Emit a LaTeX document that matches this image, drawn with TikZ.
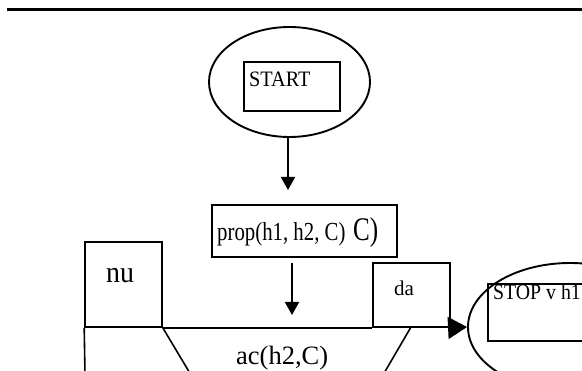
\documentclass[tikz,border=0pt]{standalone}
\usepackage{fontspec}
\usepackage{graphicx}
\setmainfont{Liberation Serif}
\usetikzlibrary{shapes.geometric,arrows.meta}
\begin{document}
\begin{tikzpicture}[x=1pt,y=-1pt,
  ln/.style={line width=1.6pt},
  boxnode/.style={draw,line width=1.6pt,rectangle,inner sep=0pt},
  ovalnode/.style={draw,line width=1.9pt,ellipse,inner sep=0pt},
  txt/.style={anchor=base west,inner sep=0pt},
  arr/.style={line width=1.6pt,-{Triangle[length=13pt,width=14pt]}},
  bigarr/.style={line width=1.6pt,-{Triangle[length=19pt,width=22pt]}}]
\useasboundingbox (0,0) rectangle (582,371);
\clip (0,0) rectangle (582,371);
% top rule
\coordinate (ruleL) at (7,9.5);
\coordinate (ruleR) at (585,9.5);
\draw[line width=3.2pt] (ruleL) -- (ruleR);
% START
\node[ovalnode,minimum width=161pt,minimum height=110pt] (startov) at (289.5,82) {};
\node[boxnode,minimum width=96pt,minimum height=49pt] (startbox) at (292,86.5) {};
\node[txt] (starttxt) at (249,87) {\fontsize{22}{26}\selectfont\scalebox{0.92}[1]{START}};
% prop
\node[boxnode,minimum width=185pt,minimum height=52pt] (propbox) at (304.5,231) {};
\node[txt] (proptxt) at (217,241) {\fontsize{26}{30}\selectfont\scalebox{0.8}[1]{prop(h1, h2, C)}};
\node[txt] (propC) at (353,241) {\fontsize{33}{36}\selectfont\scalebox{0.76}[1]{C)}};
% arrows
\coordinate (a1s) at (288,137);
\coordinate (a1e) at (288,190);
\draw[arr] (a1s) -- (a1e);
\coordinate (a2s) at (292,263);
\coordinate (a2e) at (292,315);
\draw[arr] (a2s) -- (a2e);
% nu and da boxes
\node[boxnode,minimum width=77pt,minimum height=85pt] (nubox) at (123.5,284.5) {};
\node[txt] (nutxt) at (106,283) {\fontsize{30}{34}\selectfont\scalebox{0.93}[1]{nu}};
\node[boxnode,minimum width=77pt,minimum height=64pt] (dabox) at (411.5,295) {};
\node[txt] (datxt) at (394,296) {\fontsize{21}{24}\selectfont da};
% ac(h2,C) shape
\coordinate (leftbot) at (85,375);
\coordinate (ldiagbot) at (191,375);
\coordinate (rdtop) at (411,327);
\coordinate (rdbot) at (383,375);
\draw[ln] (nubox.south east) -- (dabox.south west);
\draw[ln] (nubox.south west) -- (leftbot);
\draw[ln] (nubox.south east) -- (ldiagbot);
\draw[ln] (rdtop) -- (rdbot);
\node[txt] (actxt) at (236,365) {\fontsize{26.5}{30}\selectfont ac(h2,C)};
% STOP
\node[ovalnode,minimum width=204pt,minimum height=128pt] (stopov) at (570,327) {};
\node[boxnode,minimum width=132pt,minimum height=57pt] (stopbox) at (554,312.5) {};
\node[txt] (stoptxt) at (493,300) {\fontsize{22}{26}\selectfont\scalebox{0.9}[1]{STOP v h1}};
\draw[bigarr] (dabox.south east) -- (stopov.west);
\end{tikzpicture}
\end{document}
